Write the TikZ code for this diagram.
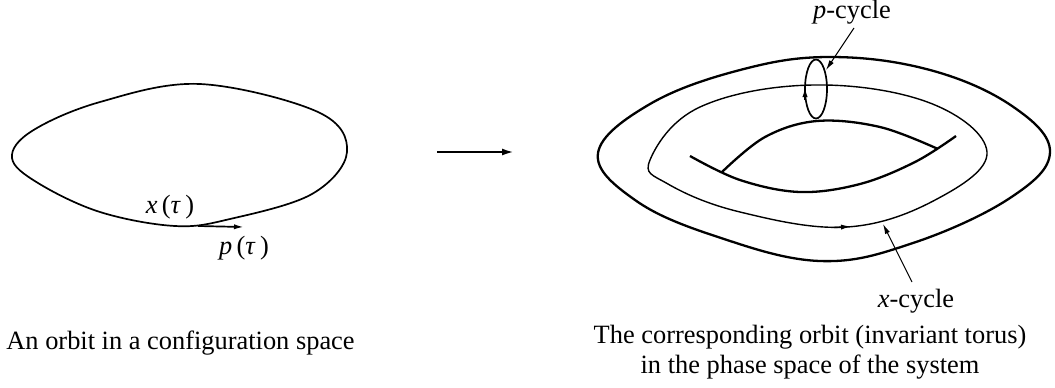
\documentclass[tikz,border=0pt]{standalone}
\usepackage{fontspec}
\setmainfont{Liberation Serif}
\usetikzlibrary{arrows.meta}
\begin{document}
\begin{tikzpicture}[x=0.5pt,y=-0.5pt,
  lbl/.style={inner sep=0pt,font=\fontsize{13.2}{15}\selectfont},
  thickc/.style={line width=1.15pt},
  thinc/.style={line width=0.7pt},
  midc/.style={line width=0.85pt},
  ptr/.style={line width=0.5pt,-{Latex[length=5pt,width=2.6pt]}},
  tip/.style={-{Latex[length=5pt,width=2.6pt]}}]
\useasboundingbox (0,0) rectangle (1055,387);
% left orbit
\draw[midc] plot[smooth cycle,tension=0.6] coordinates {(12,158) (32,131) (100,102) (200,84) (318,112) (347,152) (312,194) (230,219) (175,226) (100,212) (38,183)};
\coordinate (ta) at (198,226);
\coordinate (tb) at (244,227);
\draw[midc,tip] (ta) -- (tb);
\node[lbl] (xt) at (170,207) {\textit{x}\,(\textit{τ}\,)};
\node[lbl] (pt) at (244,248) {\textit{p}\,(\textit{τ}\,)};
\node[lbl,anchor=west] (cap1) at (6,343) {An orbit in a configuration space};
% big arrow
\coordinate (ba) at (437,152);
\coordinate (bb) at (514,152);
\draw[line width=1.1pt,-{Latex[length=6pt,width=3.5pt]}] (ba) -- (bb);
% torus outer
\draw[thickc] plot[smooth cycle,tension=0.65] coordinates {(598,153) (650,104) (740,70) (830,57) (930,70) (1012,106) (1050,152) (1010,198) (913,243) (820,261) (715,236) (635,200)};
% middle curve
\draw[thinc] plot[smooth cycle,tension=0.65] coordinates {(650,160) (700,107) (813,85) (930,103) (987,152) (937,199) (847,227) (740,212) (668,184)};
\coordinate (xa) at (834,227.5);
\coordinate (xb) at (851,226.5);
\draw[thinc,tip] (xa) -- (xb);
% hole
\draw[thickc] plot[smooth,tension=0.6] coordinates {(690,156) (740,180) (800,192) (860,184) (915,162) (956,136)};
\draw[thickc] plot[smooth,tension=0.6] coordinates {(722,172) (765,137) (817,121) (880,127) (938,149)};
% p-cycle
\draw[midc] (816,89) ellipse [x radius=11, y radius=29.5];
\coordinate (pa) at (805,100);
\coordinate (pb) at (805,87);
\draw[midc,tip] (pa) -- (pb);
\node[lbl] (pc) at (852,12) {\textit{p}-cycle};
\coordinate (pe) at (826,70);
\coordinate (ps) at (854,28);
\draw[ptr] (ps) -- (pe);
\node[lbl] (xc) at (916,301) {\textit{x}-cycle};
\coordinate (xe) at (883,224);
\coordinate (xs) at (912,282);
\draw[ptr] (xs) -- (xe);
\node[lbl,align=center] (cap2) at (810,352) {The corresponding orbit (invariant torus)\\in the phase space of the system};
\end{tikzpicture}
\end{document}
